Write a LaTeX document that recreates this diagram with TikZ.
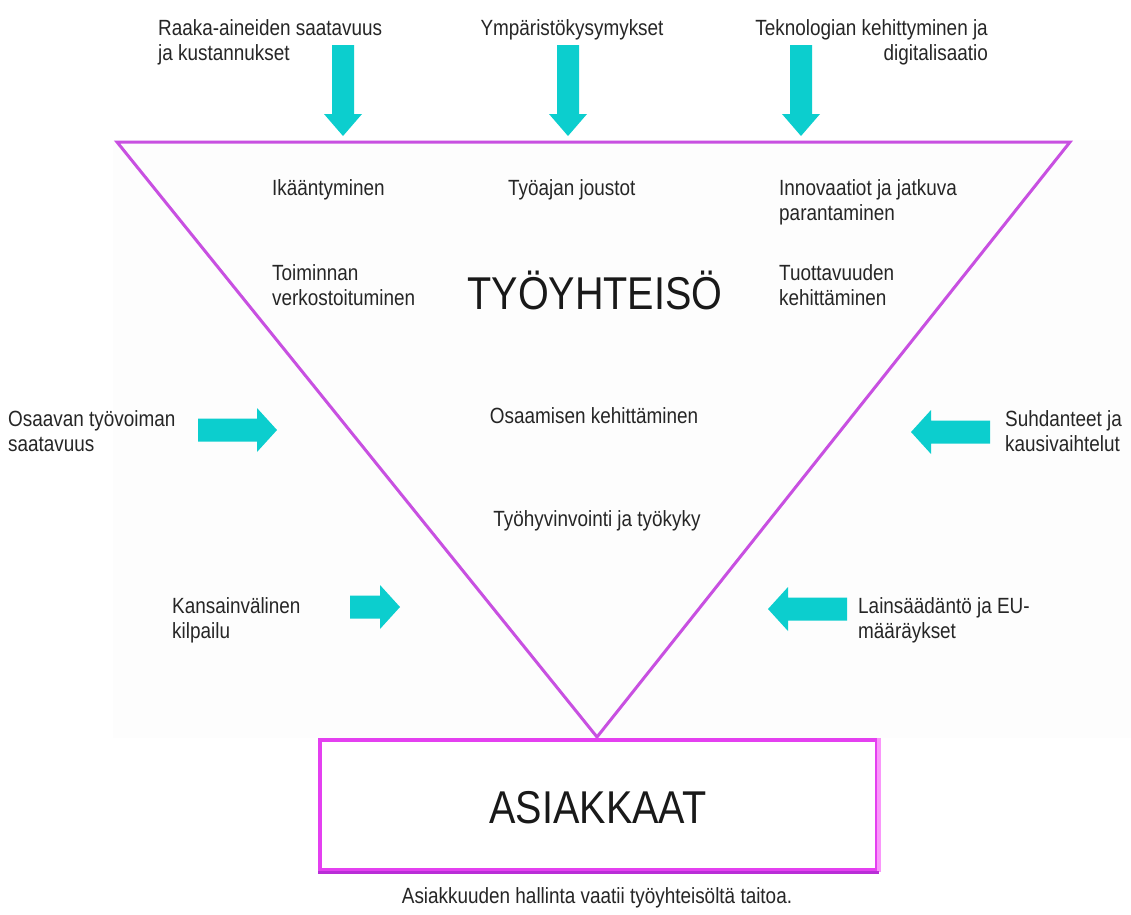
\documentclass[tikz,border=0pt]{standalone}
\usepackage{fontspec}
\setmainfont[FakeStretch=0.86]{Liberation Sans}
\definecolor{tricol}{RGB}{200,80,225}
\definecolor{boxcol}{RGB}{228,64,240}
\definecolor{boxlight}{RGB}{250,150,250}
\definecolor{boxdark}{RGB}{185,45,215}
\definecolor{arrcol}{RGB}{12,206,206}
\definecolor{bgcol}{RGB}{253,253,253}
\begin{document}
\begin{tikzpicture}[x=1pt,y=-1pt,
  lbl/.style={inner sep=0pt,font=\fontsize{22}{25.5}\selectfont,text=black!85},
  big/.style={inner sep=0pt,font=\fontsize{46}{50}\selectfont,text=black!90},
  tri/.style={draw=tricol,line width=3pt,line join=miter},
  arrowfill/.style={fill=arrcol},
  downarrow/.pic={\fill[arrowfill] (-11,0) -- (11,0) -- (11,69) -- (19,69) -- (0,91) -- (-19,69) -- (-11,69) -- cycle;},
  rightarrow/.pic={\fill[arrowfill] (0,-11.5) -- (59,-11.5) -- (59,-22) -- (79,0) -- (59,22) -- (59,11.5) -- (0,11.5) -- cycle;},
  shortright/.pic={\fill[arrowfill] (0,-11.5) -- (30,-11.5) -- (30,-22) -- (50,0) -- (30,22) -- (30,11.5) -- (0,11.5) -- cycle;},
  leftarrow/.pic={\fill[arrowfill] (0,-11.5) -- (-59,-11.5) -- (-59,-22) -- (-79,0) -- (-59,22) -- (-59,11.5) -- (0,11.5) -- cycle;}
]
\useasboundingbox (0,0) rectangle (1131,914);
\fill[white] (0,0) rectangle (1131,914);
\fill[bgcol] (113,140) rectangle (1131,738);

% triangle
\coordinate (tl) at (117,142);
\coordinate (tr) at (1070,142);
\coordinate (apex) at (597,737);
\draw[tri] (tl) -- (tr) -- (apex) -- cycle;

% customers box
\node[draw=boxcol,line width=4pt,minimum width=557pt,minimum height=130pt,inner sep=0pt] (box) at (598.5,805) {};
\draw[draw=boxlight,line width=4pt] (box.north east) -- (box.south east);
\draw[draw=boxdark,line width=3pt] (box.south west) -- (box.south east);
\node[big,anchor=base] (asiakkaat) at (598,823) {ASIAKKAAT};

% top arrows
\pic at (343,45) {downarrow};
\pic at (568,45) {downarrow};
\pic at (801,45) {downarrow};
% side arrows
\pic at (198,430) {rightarrow};
\pic at (350,607) {shortright};
\pic at (990,432) {leftarrow};
\pic at (847,609) {leftarrow};

% top labels (base anchor = baseline of last line)
\node[lbl,anchor=base west,align=left] (raaka) at (158,60.5) {Raaka-aineiden saatavuus\\ja kustannukset};
\node[lbl,anchor=base] (ymp) at (572,35) {Ympäristökysymykset};
\node[lbl,anchor=base east,align=right] (tekn) at (988,60.5) {Teknologian kehittyminen ja\\digitalisaatio};

% inside triangle
\node[lbl,anchor=base west] (ika) at (272,195) {Ikääntyminen};
\node[lbl,anchor=base west] (tyoaika) at (508,195) {Työajan joustot};
\node[lbl,anchor=base west,align=left] (innov) at (779,220.5) {Innovaatiot ja jatkuva\\parantaminen};
\node[lbl,anchor=base west,align=left] (toim) at (272,305.5) {Toiminnan\\verkostoituminen};
\node[lbl,anchor=base west,align=left] (tuott) at (779,305.5) {Tuottavuuden\\kehittäminen};
\node[big,anchor=base] (tyoyht) at (595,309) {TYÖYHTEISÖ};
\node[lbl,anchor=base] (osaam) at (594,423) {Osaamisen kehittäminen};
\node[lbl,anchor=base] (hyvin) at (597,526) {Työhyvinvointi ja työkyky};

% side labels
\node[lbl,anchor=base west,align=left] (osaavan) at (8,451.5) {Osaavan työvoiman\\saatavuus};
\node[lbl,anchor=base west,align=left] (suhd) at (1005,451.5) {Suhdanteet ja\\kausivaihtelut};
\node[lbl,anchor=base west,align=left] (kans) at (172,638.5) {Kansainvälinen\\kilpailu};
\node[lbl,anchor=base west,align=left] (lain) at (858,638.5) {Lainsäädäntö ja EU-\\määräykset};

% caption
\node[lbl,anchor=base] (caption) at (597,903) {Asiakkuuden hallinta vaatii työyhteisöltä taitoa.};
\end{tikzpicture}
\end{document}
